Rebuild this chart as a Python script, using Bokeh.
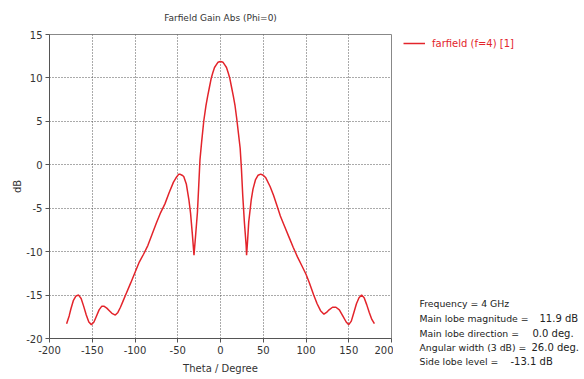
from bokeh.plotting import figure
from bokeh.models import Legend, Label, FixedTicker, Range1d
from bokeh.layouts import row, column
from bokeh.embed import file_html
from bokeh.resources import INLINE

theta = [-180, -177, -175, -172, -169, -166, -163, -160, -157, -154, -151, -148, -145, -142,
         -139, -136, -133, -130, -127, -123, -120, -117, -114, -111, -105, -100, -95, -90,
         -85, -80, -75, -70, -65, -60, -55, -52, -49, -47, -45, -43, -40, -37, -35, -33, -31,
         -29, -27, -25.5, -24, -22, -19.5, -17, -15, -13, -11, -9, -7, -5, -3, 0,
         3, 5, 7, 9, 11, 13, 15, 17, 19, 21, 23, 24.5, 26, 28, 30, 30.5, 31.5, 33, 36, 38,
         41, 44, 47, 50, 53, 58, 62, 66, 70, 75, 80, 85, 90, 95, 100, 104, 109, 113, 117,
         121, 124, 127, 131, 135, 139, 143, 147, 150, 153, 156, 159, 162, 165, 168, 171,
         174, 177, 180]
gain = [-18.3, -17.4, -16.6, -15.6, -15.1, -15.0, -15.4, -16.3, -17.3, -18.1, -18.4, -18.1,
        -17.4, -16.7, -16.3, -16.3, -16.5, -16.8, -17.1, -17.3, -17.0, -16.4, -15.7, -15.0,
        -13.6, -12.4, -11.2, -10.3, -9.3, -8.0, -6.7, -5.5, -4.5, -3.2, -2.0, -1.5, -1.1,
        -1.1, -1.2, -1.35, -2.2, -4.0, -5.6, -7.9, -10.4,
        -8.0, -5.5, -2.5, 0.6, 2.7, 5.1, 6.8, 7.9, 8.9, 9.9, 10.6, 11.2, 11.5, 11.8, 11.9,
        11.8, 11.5, 11.2, 10.6, 9.9, 8.9, 7.9, 6.8, 5.3, 3.6, 1.9, -0.5, -3.5, -6.7, -9.3,
        -10.4, -9.0, -6.6, -4.0, -2.8, -1.7, -1.2, -1.07, -1.2, -1.5, -2.5, -3.5, -4.7,
        -5.9, -7.1, -8.3, -9.5, -10.6, -11.6, -12.6, -13.6, -15.0, -16.0, -16.8, -17.2,
        -17.0, -16.7, -16.4, -16.4, -16.7, -17.4, -18.1, -18.4, -18.0, -17.0, -16.0, -15.3,
        -15.0, -15.3, -16.1, -17.0, -17.8, -18.3]

x_ticks = [-200, -150, -100, -50, 0, 50, 100, 150, 200]
y_ticks = [-20, -15, -10, -5, 0, 5, 10, 15]

series_name = "farfield (f=4) [1]"
info_keys = ["Frequency = 4 GHz", "Main lobe magnitude =", "Main lobe direction =",
             "Angular width (3 dB) =", "Side lobe level ="]
info_vals = ["", "11.9 dB", "0.0 deg.", "26.0 deg.", "-13.1 dB"]

FONT = "DejaVu Sans"
RED = "#e3242b"
TXT = "#333333"

H = 376
W1 = 393
W2 = 187
FRAME_TOP = 34
FRAME_BOTTOM = 339

p = figure(width=W1, height=H, x_range=(-200, 200), y_range=(-20, 15),
           output_backend="svg", toolbar_location=None,
           title="Farfield Gain Abs (Phi=0)",
           min_border_left=49, min_border_right=2, min_border_top=FRAME_TOP,
           min_border_bottom=H - FRAME_BOTTOM)

p.title.align = "center"
p.title.vertical_align = "top"
p.title.text_font = FONT
p.title.text_font_size = "9px"
p.title.text_font_style = "normal"
p.title.text_color = TXT
p.title.standoff = 20

r = p.line(theta, gain, line_color=RED, line_width=1.5)

for ax in (p.xaxis[0], p.yaxis[0]):
    ax.major_label_text_font = FONT
    ax.major_label_text_font_size = "10px"
    ax.major_label_text_color = TXT
    ax.axis_label_text_font = FONT
    ax.axis_label_text_font_size = "10px"
    ax.axis_label_text_font_style = "normal"
    ax.axis_label_text_color = TXT
    ax.axis_line_color = "#555555"
    ax.major_tick_line_color = "#555555"
    ax.major_tick_out = 4
    ax.major_tick_in = 0
    ax.minor_tick_line_color = None
    ax.major_label_standoff = 3

p.xaxis.ticker = FixedTicker(ticks=x_ticks)
p.yaxis.ticker = FixedTicker(ticks=y_ticks)
p.xaxis.major_label_overrides = {t: str(t) for t in x_ticks}
p.yaxis.major_label_overrides = {t: str(t) for t in y_ticks}
p.xaxis.axis_label = "Theta / Degree"
p.yaxis.axis_label = "dB"
p.xaxis.axis_label_standoff = 6
p.yaxis.axis_label_standoff = 0

p.xgrid.ticker = FixedTicker(ticks=x_ticks)
p.ygrid.ticker = FixedTicker(ticks=y_ticks)
for g in (p.xgrid[0], p.ygrid[0]):
    g.grid_line_color = "#555555"
    g.grid_line_dash = "1 2"
    g.grid_line_width = 1

p.outline_line_color = "#888888"
p.background_fill_color = "white"
p.border_fill_color = "white"

# side panel for the legend and the summary text: one unit is one pixel,
# y counted from the top of the panel
q = figure(width=W2, height=H, x_range=Range1d(0, W2), y_range=Range1d(H, 0),
           x_axis_type=None, y_axis_type=None, output_backend="svg",
           toolbar_location=None, min_border=0)
q.outline_line_color = None
q.xgrid.visible = False
q.ygrid.visible = False
q.extra_x_ranges = {"off": Range1d(1000, 2000)}
rq = q.line(theta, gain, line_color=RED, line_width=1.5, x_range_name="off")

legend = Legend(items=[(series_name, [rq])], location=(10, H - 49))
legend.margin = 0
legend.padding = 0
legend.label_text_font = FONT
legend.label_text_font_size = "10px"
legend.label_text_color = RED
legend.glyph_width = 22
legend.glyph_height = 12
legend.label_height = 12
legend.label_standoff = 7
legend.border_line_color = None
legend.background_fill_alpha = 0
q.add_layout(legend)

key_x = 26
val_x = [0, 146, 139, 138, 117]
line_y = [303, 318, 333, 347, 361]
for k, v, vx, yy in zip(info_keys, info_vals, val_x, line_y):
    q.add_layout(Label(x=key_x, y=yy, text=k, text_font=FONT, text_font_size="9.3px",
                       text_color="#222222", text_baseline="middle"))
    if v:
        q.add_layout(Label(x=vx, y=yy, text=v, text_font=FONT, text_font_size="10px",
                           text_color="#222222", text_baseline="middle"))

layout = row(p, column(q))
open("out.html", "w").write(file_html(layout, INLINE))
